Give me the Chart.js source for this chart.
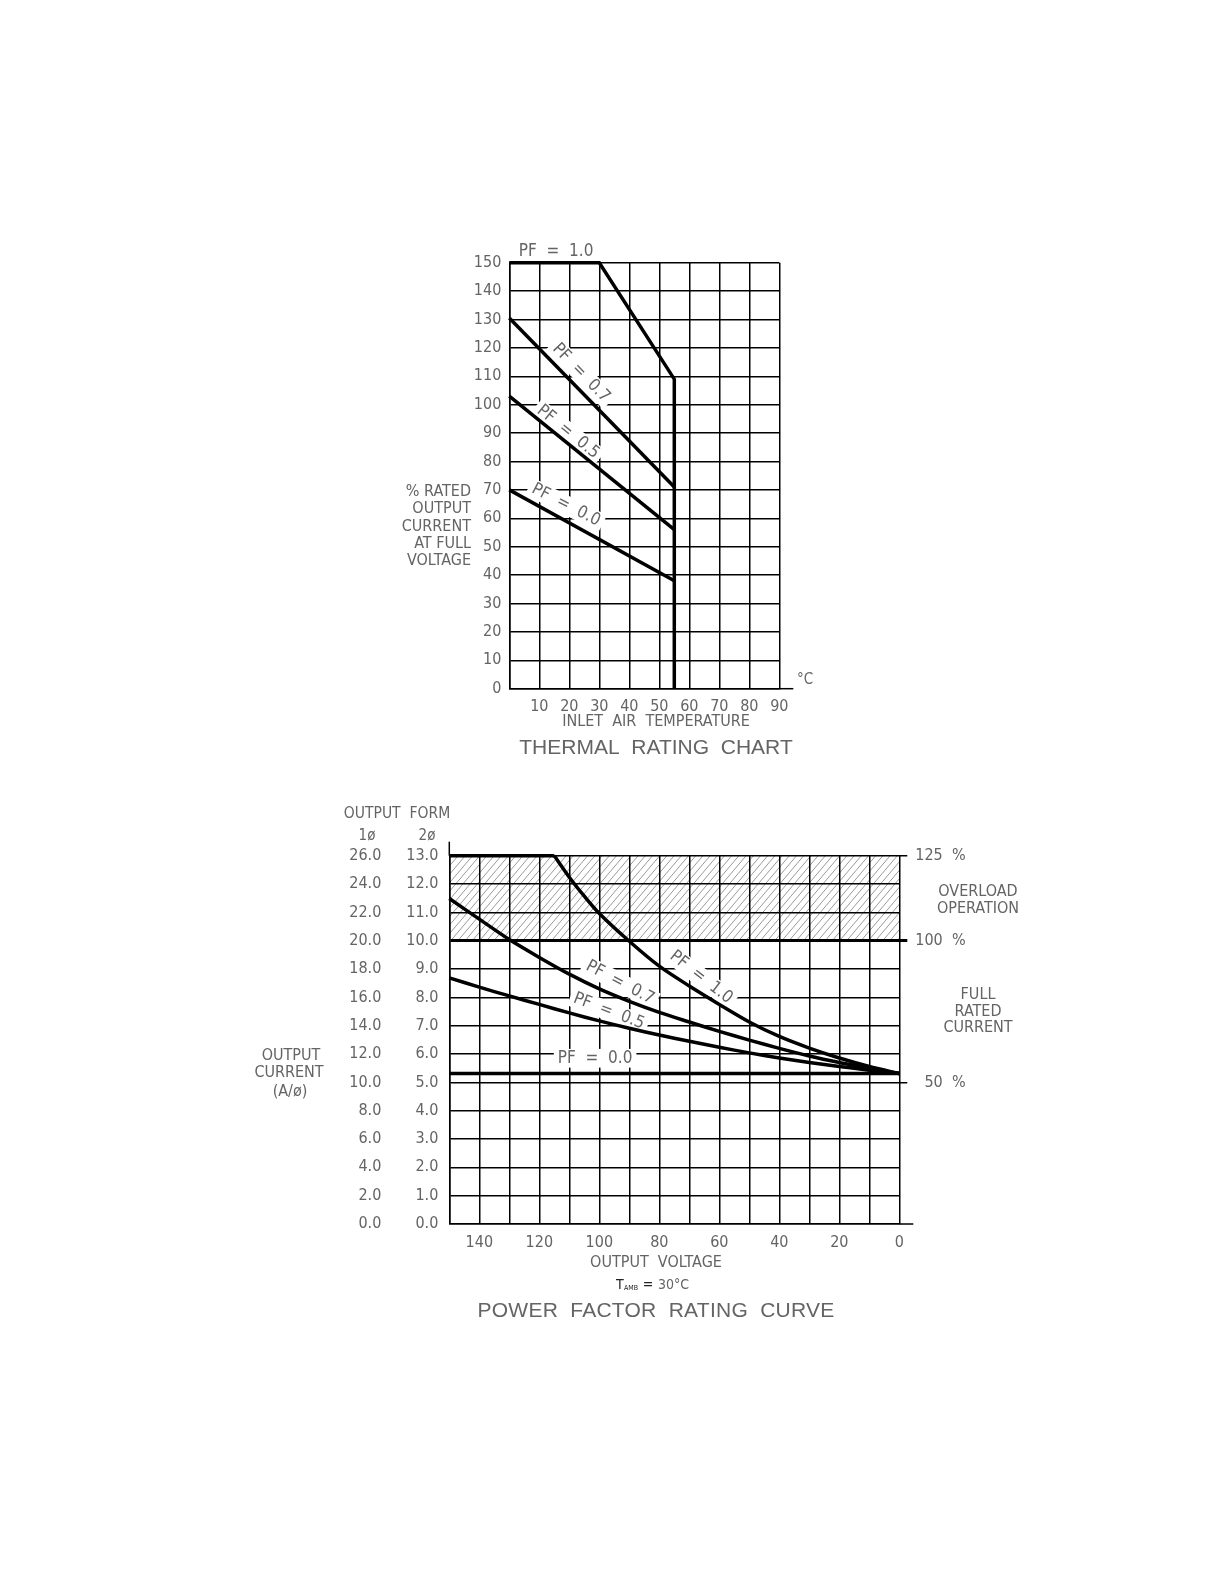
<!DOCTYPE html>
<html>
<head>
<meta charset="utf-8">
<script src="https://cdn.jsdelivr.net/npm/chart.js@4.4.0/dist/chart.umd.min.js"></script>
<style>
  html, body { margin: 0; padding: 0; background: #fff; }
  #page { position: relative; width: 1224px; height: 1584px; }
  canvas { position: absolute; left: 0; top: 0; }
</style>
</head>
<body>
<div id="page">
  <canvas id="thermal" width="1224" height="1584"></canvas>
  <canvas id="pfcurve" width="1224" height="1584"></canvas>
</div>
<script>
// ---- thermal rating chart: % rated current vs inlet air temperature
const pf10Temp = [0, 30, 55, 55]
const pf10Pct = [150, 150, 109, 0]
const pf07Temp = [0, 55]
const pf07Pct = [130.5, 71]
const pf05Temp = [0, 55]
const pf05Pct = [103, 56]
const pf00Temp = [0, 55]
const pf00Pct = [70, 38]

// ---- power factor rating curve: output current (2ø amps) vs output voltage
const pf10FlatVolt = [150, 115]
const pf10FlatAmp = [13.0, 13.0]
const pf10Volt = [115, 110, 105, 100, 90, 80, 70, 60, 50, 40, 30, 20, 10, 0]
const pf10Amp = [13.0, 12.24, 11.57, 10.96, 9.98, 9.10, 8.40, 7.75, 7.13, 6.62, 6.21, 5.86, 5.56, 5.31]
const curveVolt = [150, 140, 130, 120, 110, 100, 90, 80, 70, 60, 50, 40, 30, 20, 10, 0]
const pf07Amp = [11.49, 10.76, 10.04, 9.41, 8.82, 8.30, 7.86, 7.47, 7.13, 6.80, 6.49, 6.20, 5.93, 5.70, 5.50, 5.31]
const pf05Amp = [8.69, 8.36, 8.05, 7.75, 7.45, 7.17, 6.91, 6.67, 6.45, 6.24, 6.04, 5.86, 5.70, 5.56, 5.43, 5.31]
const pf00Volt = [150, 0]
const pf00Amp = [5.31, 5.31]

// right hand markers (2ø amps) and their labels
const ratingMarks = [5, 10, 13]
const ratingLabels = ['\u200750  %', '100  %', '125  %']
const overloadFrom = 10
const overloadTo = 13

const NARROW = "'Liberation Sans Narrow', 'DejaVu Sans Condensed', sans-serif"
const WIDE = "'Liberation Sans', 'DejaVu Sans', sans-serif"
const TEXT_COLOR = '#646464'
const GRID = '#000'

Chart.defaults.font.family = NARROW
Chart.defaults.color = TEXT_COLOR

const pts = (xs, ys) => xs.map((x, i) => ({ x: x, y: ys[i] }))

const series = (label, xs, ys, smooth) => ({
  label: label,
  data: pts(xs, ys),
  borderColor: '#000',
  borderWidth: 3.5,
  pointRadius: 0,
  fill: false,
  clip: 6,
  tension: smooth ? 0.3 : 0
})

function drawText(ctx, text, x, y, o) {
  o = o || {}
  const size = o.size || 16
  ctx.save()
  ctx.font = size + 'px ' + (o.family || NARROW)
  ctx.textAlign = o.align || 'center'
  ctx.textBaseline = 'middle'
  if (o.spacing) ctx.letterSpacing = o.spacing + 'px'
  ctx.translate(x, y)
  if (o.angle) ctx.rotate(o.angle * Math.PI / 180)
  if (o.bg) {
    const w = ctx.measureText(text).width
    ctx.fillStyle = '#fff'
    ctx.fillRect(-w / 2 - 4, -size * 0.55, w + 8, size * 1.1)
  }
  ctx.fillStyle = o.color || TEXT_COLOR
  ctx.fillText(text, 0, 0)
  ctx.restore()
}

function line(ctx, x1, y1, x2, y2, w) {
  ctx.save()
  ctx.strokeStyle = GRID
  ctx.lineWidth = w || 1.5
  ctx.beginPath()
  ctx.moveTo(x1, y1)
  ctx.lineTo(x2, y2)
  ctx.stroke()
  ctx.restore()
}

// curve labels, placed in data units
const thermalLabels = [
  { text: 'PF  =  1.0', x: 15.6, y: 153.8, angle: 0, bg: false },
  { text: 'PF  =  0.7', x: 23.9, y: 111.2, angle: 46, bg: true },
  { text: 'PF  =  0.5', x: 19.6, y: 90.4, angle: 39, bg: true },
  { text: 'PF  =  0.0', x: 18.9, y: 64.7, angle: 27, bg: true }
]
const curveLabels = [
  { text: 'PF  =  1.0', x: 66.1, y: 8.71, angle: 38 },
  { text: 'PF  =  0.7', x: 93.1, y: 8.52, angle: 28 },
  { text: 'PF  =  0.5', x: 96.8, y: 7.51, angle: 21 },
  { text: 'PF  =  0.0', x: 101.4, y: 5.85, angle: 0 }
]

const thermalText = {
  id: 'thermalText',
  beforeDatasetsDraw(chart) {
    const { ctx, scales } = chart
    thermalLabels.forEach(l => {
      drawText(ctx, l.text, scales.x.getPixelForValue(l.x), scales.y.getPixelForValue(l.y),
        { size: 17, angle: l.angle, bg: l.bg })
    })
  },
  afterDraw(chart) {
    const { ctx, chartArea } = chart
    const a = chartArea
    line(ctx, a.right, a.bottom, a.right + 14, a.bottom)
    const yTitle = ['% RATED', 'OUTPUT', 'CURRENT', 'AT FULL', 'VOLTAGE']
    yTitle.forEach((t, i) => drawText(ctx, t, 471, 492 + i * 17.2, { align: 'right', size: 16 }))
    drawText(ctx, '°C', 797, 680, { align: 'left', size: 15 })
    drawText(ctx, 'INLET  AIR  TEMPERATURE', 656, 722, { size: 16 })
    drawText(ctx, 'THERMAL  RATING  CHART', 656, 748, { size: 21, family: WIDE })
  }
}

const curveText = {
  id: 'curveText',
  beforeDraw(chart) {
    // hatched overload band
    const { ctx, chartArea, scales } = chart
    const top = scales.y.getPixelForValue(overloadTo)
    const bottom = scales.y.getPixelForValue(overloadFrom)
    ctx.save()
    ctx.beginPath()
    ctx.rect(chartArea.left, top, chartArea.right - chartArea.left, bottom - top)
    ctx.clip()
    ctx.strokeStyle = '#9a9a9a'
    ctx.lineWidth = 1
    const h = bottom - top
    for (let x = chartArea.left - h; x < chartArea.right + h; x += 7.2) {
      ctx.beginPath()
      ctx.moveTo(x, bottom)
      ctx.lineTo(x + h * 0.85, top)
      ctx.stroke()
    }
    ctx.restore()
  },
  beforeDatasetsDraw(chart) {
    const { ctx, scales } = chart
    curveLabels.forEach(l => {
      drawText(ctx, l.text, scales.x.getPixelForValue(l.x), scales.y.getPixelForValue(l.y),
        { size: 17, angle: l.angle, bg: true })
    })
  },
  afterDraw(chart) {
    const { ctx, chartArea } = chart
    const a = chartArea
    line(ctx, a.left, a.top, a.left, a.top - 14)
    line(ctx, a.right, a.bottom, a.right + 14, a.bottom)
    drawText(ctx, 'OUTPUT  FORM', 397, 814, { size: 15.5 })
    drawText(ctx, '1ø', 367, 836, { size: 15 })
    drawText(ctx, '2ø', 427, 836, { size: 15 })
    drawText(ctx, 'OUTPUT', 291, 1056, { size: 16 })
    drawText(ctx, 'CURRENT', 289, 1073, { size: 16 })
    drawText(ctx, '(A/ø)', 290, 1092, { size: 16 })
    drawText(ctx, 'OVERLOAD', 978, 892, { size: 16 })
    drawText(ctx, 'OPERATION', 978, 909, { size: 16 })
    drawText(ctx, 'FULL', 978, 995, { size: 16 })
    drawText(ctx, 'RATED', 978, 1012, { size: 16 })
    drawText(ctx, 'CURRENT', 978, 1028, { size: 16 })
    drawText(ctx, 'OUTPUT  VOLTAGE', 656, 1263, { size: 16 })
    drawText(ctx, 'T', 616, 1285, { size: 14, align: 'left', color: '#222' })
    drawText(ctx, 'AMB', 624, 1288, { size: 7, align: 'left', color: '#222' })
    drawText(ctx, '=', 648, 1285, { size: 14, color: '#222' })
    drawText(ctx, '30°C', 658, 1285, { size: 14, align: 'left' })
    drawText(ctx, 'POWER  FACTOR  RATING  CURVE', 656, 1311, { size: 21, family: WIDE, spacing: 0.25 })
  }
}

const tickFont = { family: NARROW, size: 16 }

new Chart(document.getElementById('thermal'), {
  type: 'line',
  data: {
    datasets: [
      series('PF = 1.0', pf10Temp, pf10Pct),
      series('PF = 0.7', pf07Temp, pf07Pct),
      series('PF = 0.5', pf05Temp, pf05Pct),
      series('PF = 0.0', pf00Temp, pf00Pct)
    ]
  },
  options: {
    responsive: false,
    animation: false,
    layout: { padding: { left: 449.3, right: 444.7, top: 262.7, bottom: 855.3 } },
    plugins: { legend: { display: false }, tooltip: { enabled: false } },
    scales: {
      x: {
        type: 'linear', min: 0, max: 90,
        afterFit: s => { s.height = 40 },
        ticks: { stepSize: 10, padding: 9, font: tickFont, autoSkip: false, maxRotation: 0,
          callback: v => v === 0 ? '' : v },
        grid: { color: GRID, lineWidth: 1.5, drawTicks: false },
        border: { color: GRID, width: 1.5 }
      },
      y: {
        type: 'linear', min: 0, max: 150,
        afterFit: s => { s.width = 60 },
        ticks: { stepSize: 10, padding: 8, font: tickFont },
        grid: { color: GRID, lineWidth: 1.5, drawTicks: false },
        border: { color: GRID, width: 1.5 }
      }
    }
  },
  plugins: [thermalText]
})

new Chart(document.getElementById('pfcurve'), {
  type: 'line',
  data: {
    datasets: [
      series('PF = 1.0', pf10FlatVolt, pf10FlatAmp),
      series('PF = 1.0 derated', pf10Volt, pf10Amp, true),
      series('PF = 0.7', curveVolt, pf07Amp, true),
      series('PF = 0.5', curveVolt, pf05Amp, true),
      series('PF = 0.0', pf00Volt, pf00Amp)
    ]
  },
  options: {
    responsive: false,
    animation: false,
    layout: { padding: { left: 329.3, right: 254.7, top: 855.7, bottom: 320 } },
    plugins: { legend: { display: false }, tooltip: { enabled: false } },
    scales: {
      x: {
        type: 'linear', min: 0, max: 150, reverse: true,
        afterFit: s => { s.height = 40 },
        ticks: { stepSize: 10, padding: 9, font: tickFont, autoSkip: false, maxRotation: 0,
          callback: v => v % 20 === 0 ? v : '' },
        grid: { color: GRID, lineWidth: 1.5, drawTicks: false },
        border: { color: GRID, width: 1.5 }
      },
      y: {
        type: 'linear', position: 'left', weight: 0, min: 0, max: 13,
        afterFit: s => { s.width = 60 },
        ticks: { stepSize: 1, padding: 11, font: tickFont, callback: v => v.toFixed(1) },
        grid: { color: GRID, drawTicks: false,
          lineWidth: c => c.tick && c.tick.value === overloadFrom ? 3 : 1.5 },
        border: { color: GRID, width: 1.5 }
      },
      y1: {
        type: 'linear', position: 'left', weight: 1, min: 0, max: 26,
        afterFit: s => { s.width = 60 },
        ticks: { stepSize: 2, padding: 8, font: tickFont, callback: v => v.toFixed(1) },
        grid: { display: false, drawTicks: false },
        border: { display: false }
      },
      y2: {
        type: 'linear', position: 'right', min: 0, max: 13,
        afterFit: s => { s.width = 70 },
        afterBuildTicks: s => { s.ticks = ratingMarks.map(v => ({ value: v })) },
        ticks: { padding: 8, font: tickFont,
          callback: v => ratingLabels[ratingMarks.indexOf(v)] },
        grid: { color: GRID, drawOnChartArea: false, drawTicks: true, tickLength: 8,
          lineWidth: c => c.tick && c.tick.value === overloadFrom ? 3 : 1.5 },
        border: { display: false }
      }
    }
  },
  plugins: [curveText]
})
</script>
</body>
</html>
